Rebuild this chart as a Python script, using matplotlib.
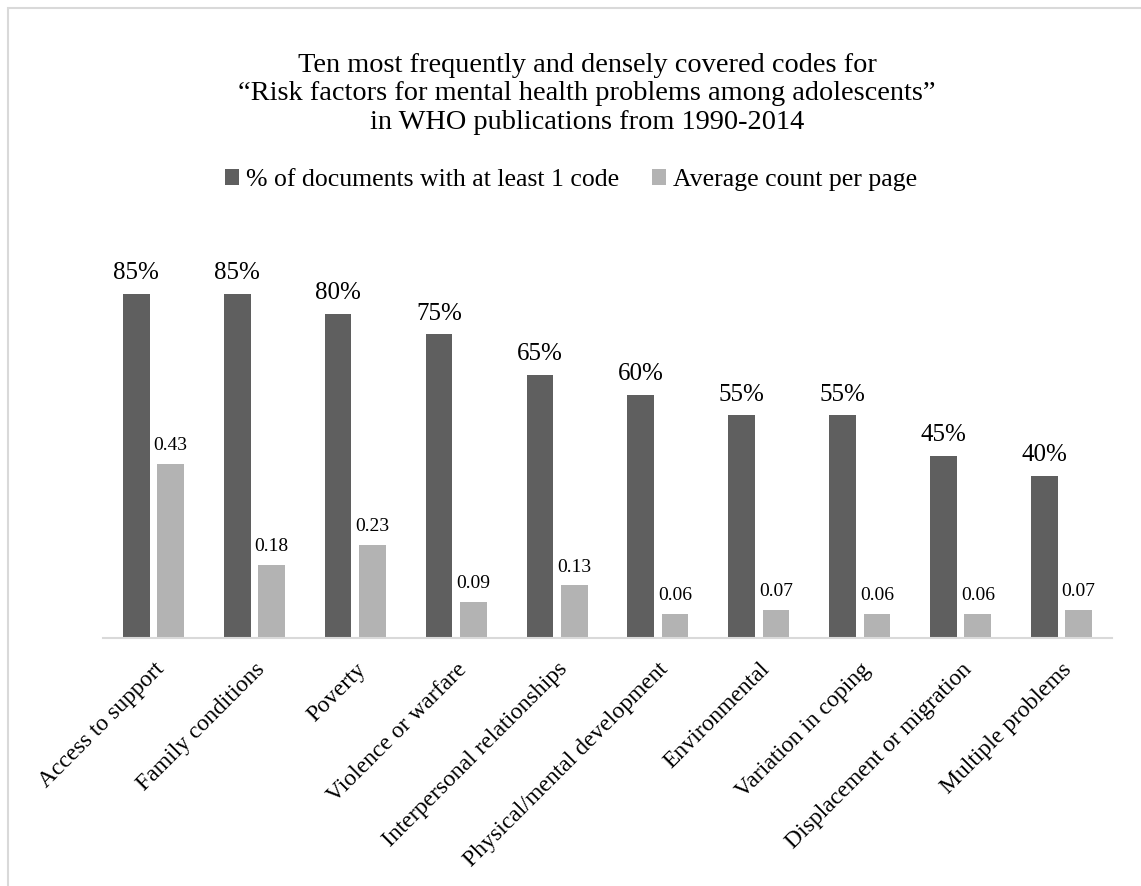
import matplotlib
matplotlib.use("Agg")
import matplotlib.pyplot as plt
import numpy as np
from matplotlib.patches import Rectangle

plt.rcParams['font.family'] = ['Liberation Serif', 'DejaVu Serif']

categories = ["Access to support", "Family conditions", "Poverty", "Violence or warfare",
              "Interpersonal relationships", "Physical/mental development", "Environmental",
              "Variation in coping", "Displacement or migration", "Multiple problems"]
pct_docs = [0.85, 0.85, 0.80, 0.75, 0.65, 0.60, 0.55, 0.55, 0.45, 0.40]
avg_count = [0.43, 0.18, 0.23, 0.09, 0.13, 0.06, 0.07, 0.06, 0.06, 0.07]
series_names = ["% of documents with at least 1 code", "Average count per page"]
title = ("Ten most frequently and densely covered codes for\n"
         "\u201cRisk factors for mental health problems among adolescents\u201d\n"
         "in WHO publications from 1990-2014")

dark = "#5f5f5f"
light = "#b3b3b3"

fig = plt.figure(figsize=(11.41, 8.86), dpi=100)
# outer border (chart area frame)
fig.patches.append(Rectangle((8/1141, -0.1), 1.2, 1 - 8/886 + 0.1, transform=fig.transFigure,
                             fill=False, edgecolor="#d9d9d9", linewidth=1.5))

ax = fig.add_axes([103/1141, 1 - 638/886, 1009/1141, (638 - 233)/886])
x = np.arange(len(categories))
w = 0.265
off = 0.17
b1 = ax.bar(x - off, pct_docs, width=w, color=dark, label=series_names[0])
b2 = ax.bar(x + off, avg_count, width=w, color=light, label=series_names[1])

ax.set_xlim(-0.5, len(categories) - 0.5)
ax.set_ylim(0, 1.0)
for s in ["top", "right", "left"]:
    ax.spines[s].set_visible(False)
ax.spines["bottom"].set_color("#d9d9d9")
ax.spines["bottom"].set_linewidth(1.5)
ax.set_yticks([])
ax.set_xticks(x)
ax.set_xticklabels(categories, rotation=45, ha="right", rotation_mode="anchor", fontsize=17)
ax.tick_params(axis="x", length=0, pad=15)

for xi, v in zip(x, pct_docs):
    ax.annotate(f"{round(v*100)}%", (xi - off, v), xytext=(0, 7), textcoords="offset points",
                ha="center", va="bottom", fontsize=18)
for xi, v in zip(x, avg_count):
    ax.annotate(f"{v:.2f}", (xi + off, v), xytext=(0, 7), textcoords="offset points",
                ha="center", va="bottom", fontsize=14)

fig.text(587/1141, 1 - 94/886, title, ha="center", va="center", fontsize=20.4, linespacing=1.19)

fig.legend(handles=[b1, b2], labels=series_names, loc="center", bbox_to_anchor=(571/1141, 1 - 180/886),
           ncol=2, frameon=False, fontsize=18.5, handlelength=0.55, handleheight=0.55,
           handletextpad=0.25, columnspacing=1.3)

fig.savefig("out.png", dpi=100)
